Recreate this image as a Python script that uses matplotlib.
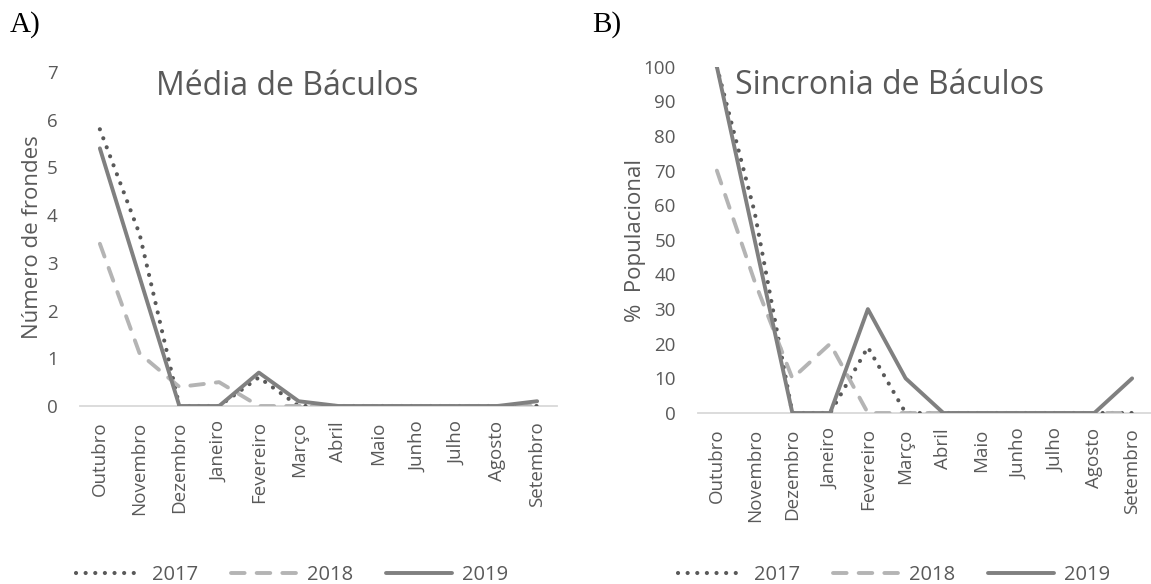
import matplotlib.pyplot as plt

# dados
meses = [
    "Outubro", "Novembro", "Dezembro", "Janeiro", "Fevereiro", "Março",
    "Abril", "Maio", "Junho", "Julho", "Agosto", "Setembro",
]

media_2017 = [5.8, 3.6, 0, 0, 0.6, 0, 0, 0, 0, 0, 0, 0]
media_2018 = [3.4, 1.1, 0.4, 0.5, 0, 0, 0, 0, 0, 0, 0, 0]
media_2019 = [5.4, 2.7, 0, 0, 0.7, 0.1, 0, 0, 0, 0, 0, 0.1]

sinc_2017 = [100, 58, 0, 0, 19, 0, 0, 0, 0, 0, 0, 0]
sinc_2018 = [70, 38, 10, 20, 0, 0, 0, 0, 0, 0, 0, 0]
sinc_2019 = [100, 50, 0, 0, 30, 10, 0, 0, 0, 0, 0, 10]

anos = ["2017", "2018", "2019"]

texto = "#595959"
fonte = "Open Sans"

plt.rcParams["font.family"] = [fonte, "DejaVu Sans"]

estilos = [
    dict(color="#595959", linewidth=3.0,
         linestyle=(0, (0.01, 2.3)), dash_capstyle="round"),
    dict(color="#b4b4b4", linewidth=2.8,
         linestyle=(0, (3.5, 3.1)), dash_capstyle="round"),
    dict(color="#808080", linewidth=2.8,
         linestyle="-", solid_capstyle="round"),
]

fig = plt.figure(figsize=(11.51, 5.84), dpi=100)

W, H = 1151, 584


def eixo(x0, x1, y_top, y_zero):
    return fig.add_axes([
        x0 / W,
        1 - y_zero / H,
        (x1 - x0) / W,
        (y_zero - y_top) / H,
    ])


ax_a = eixo(80, 557, 72, 406)
ax_b = eixo(698, 1151, 66.7, 413)

paineis = [
    (ax_a, [media_2017, media_2018, media_2019], 7, 1),
    (ax_b, [sinc_2017, sinc_2018, sinc_2019], 100, 10),
]

x = range(len(meses))

for ax, series, ymax, passo in paineis:
    for valores, estilo, ano in zip(series, estilos, anos):
        ax.plot(x, valores, label=ano, **estilo)

    ax.set_xlim(-0.5, len(meses) - 0.5)
    ax.set_ylim(0, ymax)
    ax.set_yticks(range(0, ymax + 1, passo))
    ax.set_xticks(list(x))
    ax.set_xticklabels(meses, rotation=90)

    for lado in ["top", "right", "left"]:
        ax.spines[lado].set_visible(False)
    ax.spines["bottom"].set_color("#d9d9d9")
    ax.spines["bottom"].set_linewidth(1.3)
    ax.spines["bottom"].set_zorder(0)

    ax.tick_params(axis="both", length=0, labelsize=13.5, labelcolor=texto)
    ax.tick_params(axis="y", pad=16)
    ax.tick_params(axis="x", pad=11)
    ax.patch.set_alpha(0)

    for lbl in ax.get_xticklabels():
        lbl.set_verticalalignment("top")

# títulos
fig.text(287 / W, 1 - 95 / H, "Média de Báculos", ha="center",
         va="baseline", fontsize=23, color=texto)
fig.text(735 / W, 1 - 94 / H, "Sincronia de Báculos", ha="left",
         va="baseline", fontsize=23, color=texto)

# rótulos do eixo y
fig.text(33 / W, 1 - 237 / H, "Número de frondes", rotation=90,
         ha="center", va="center", fontsize=16, color=texto)
fig.text(635 / W, 1 - 240 / H, "%  Populacional", rotation=90,
         ha="center", va="center", fontsize=16, color=texto)

# letras dos painéis
fig.text(10 / W, 1 - 32 / H, "A)", fontsize=21, family="Liberation Serif",
         va="baseline", color="black")
fig.text(592 / W, 1 - 32 / H, "B)", fontsize=21, family="Liberation Serif",
         va="baseline", color="black")

# legendas
for ax, cx in [(ax_a, 292), (ax_b, 894)]:
    h, l = ax.get_legend_handles_labels()
    fig.legend(
        h, l,
        loc="center",
        bbox_to_anchor=(cx / W, 1 - 575 / H),
        ncol=3,
        frameon=False,
        fontsize=14.5,
        labelcolor=texto,
        handlelength=3.3,
        handletextpad=0.5,
        columnspacing=1.6,
    )

fig.savefig("out.png", dpi=100)
